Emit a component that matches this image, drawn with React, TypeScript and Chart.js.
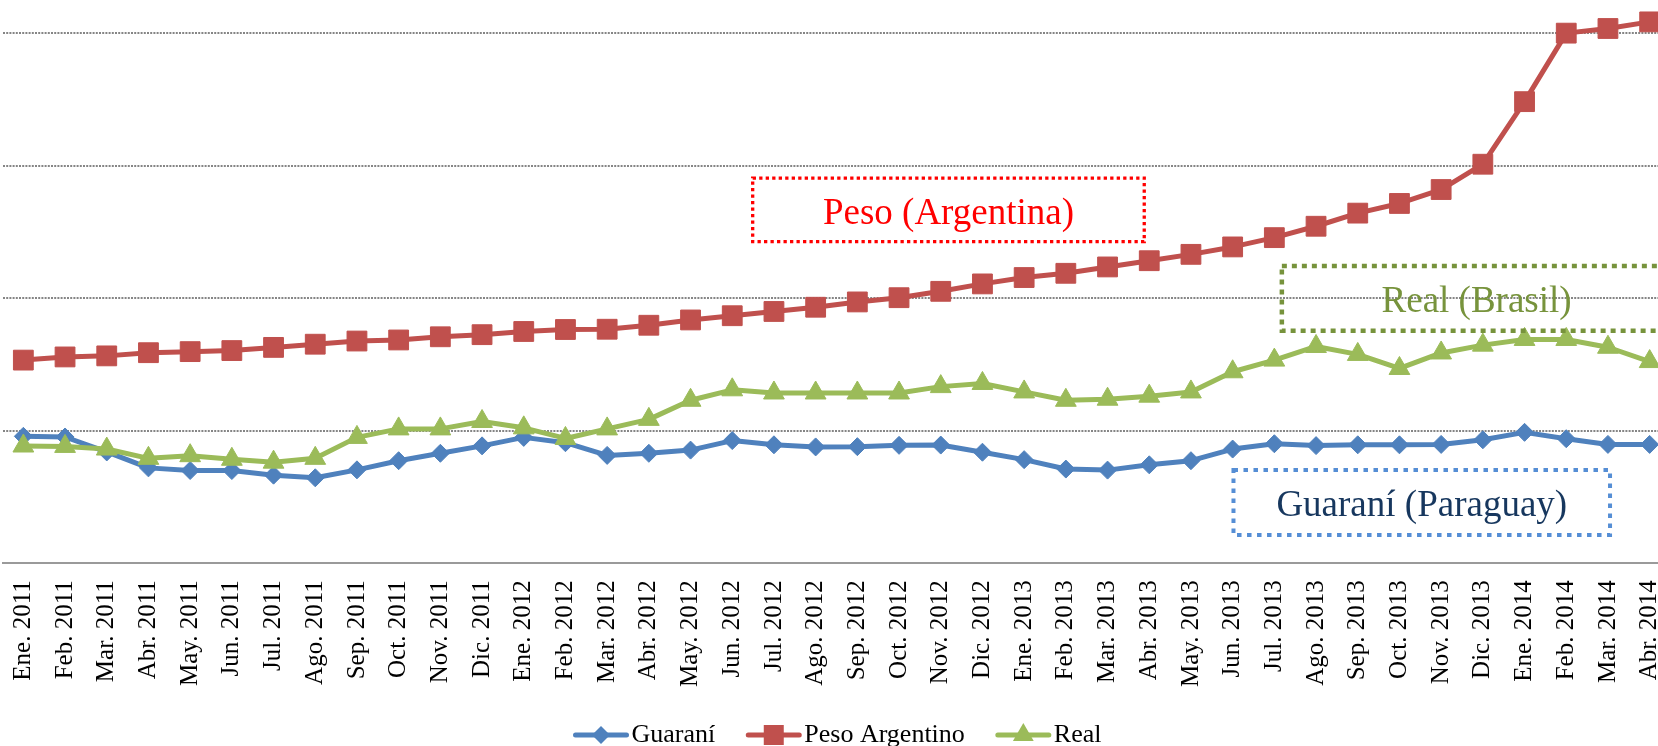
import React, { useEffect, useRef } from 'react';
import { Chart, registerables } from 'chart.js';

Chart.register(...registerables);

const FONT = '"Liberation Serif", "Times New Roman", serif';

const categories = [
  'Ene. 2011', 'Feb. 2011', 'Mar. 2011', 'Abr. 2011', 'May. 2011', 'Jun. 2011',
  'Jul. 2011', 'Ago. 2011', 'Sep. 2011', 'Oct. 2011', 'Nov. 2011', 'Dic. 2011',
  'Ene. 2012', 'Feb. 2012', 'Mar. 2012', 'Abr. 2012', 'May. 2012', 'Jun. 2012',
  'Jul. 2012', 'Ago. 2012', 'Sep. 2012', 'Oct. 2012', 'Nov. 2012', 'Dic. 2012',
  'Ene. 2013', 'Feb. 2013', 'Mar. 2013', 'Abr. 2013', 'May. 2013', 'Jun. 2013',
  'Jul. 2013', 'Ago. 2013', 'Sep. 2013', 'Oct. 2013', 'Nov. 2013', 'Dic. 2013',
  'Ene. 2014', 'Feb. 2014', 'Mar. 2014', 'Abr. 2014',
];

const guarani = [
  0.958, 0.953, 0.840, 0.720, 0.700, 0.700, 0.665, 0.645, 0.705, 0.774, 0.830, 0.886,
  0.950, 0.910, 0.814, 0.830, 0.854, 0.926, 0.894, 0.878, 0.880, 0.890, 0.892, 0.838,
  0.782, 0.711, 0.703, 0.743, 0.774, 0.862, 0.902, 0.888, 0.894, 0.894, 0.897, 0.932,
  0.988, 0.940, 0.897, 0.897,
];

const pesoArgentino = [
  1.533, 1.557, 1.565, 1.589, 1.597, 1.605, 1.629, 1.653, 1.677, 1.685, 1.709, 1.725,
  1.749, 1.764, 1.766, 1.796, 1.836, 1.868, 1.900, 1.932, 1.972, 2.004, 2.052, 2.108,
  2.156, 2.188, 2.236, 2.283, 2.331, 2.387, 2.457, 2.543, 2.642, 2.715, 2.820, 3.011,
  3.483, 4.000, 4.035, 4.085,
];

const real = [
  0.885, 0.882, 0.862, 0.792, 0.812, 0.785, 0.763, 0.792, 0.950, 1.014, 1.014, 1.070,
  1.022, 0.942, 1.014, 1.086, 1.230, 1.309, 1.285, 1.285, 1.285, 1.285, 1.333, 1.357,
  1.293, 1.230, 1.238, 1.261, 1.293, 1.445, 1.533, 1.636, 1.576, 1.470, 1.587, 1.646,
  1.689, 1.689, 1.630, 1.522,
];

const seriesNames = ['Guaraní', 'Peso Argentino', 'Real'];
const seriesColors = ['#4F81BD', '#C0504D', '#9BBB59'];

// Annotation text boxes (positions in data units: category index / value)
const annotationTexts = ['Peso (Argentina)', 'Real (Brasil)', 'Guaraní (Paraguay)'];
const annotationBoxes = [
  { x0: 17.49, x1: 26.88, y0: 2.427, y1: 2.906, border: '#FF0000', text: '#FF0000', lw: 3.3, dash: [3.3, 3.2] },
  { x0: 30.18, x1: 39.52, y0: 1.755, y1: 2.244, border: '#77933C', text: '#77933C', lw: 4.5, dash: [5, 5] },
  { x0: 29.02, x1: 38.05, y0: 0.214, y1: 0.704, border: '#558ED5', text: '#17375E', lw: 4, dash: [4.5, 5.5] },
];

function drawMarker(ctx: CanvasRenderingContext2D, style: string, x: number, y: number, color: string) {
  ctx.fillStyle = color;
  ctx.beginPath();
  if (style === 'rectRot') {
    const r = 9;
    ctx.moveTo(x - r, y);
    ctx.lineTo(x, y - r);
    ctx.lineTo(x + r, y);
    ctx.lineTo(x, y + r);
  } else if (style === 'rect') {
    const h = 10;
    ctx.rect(x - h, y - h, 2 * h, 2 * h);
  } else {
    const r = 12;
    ctx.moveTo(x, y - r);
    ctx.lineTo(x + r * 0.866, y + r / 2);
    ctx.lineTo(x - r * 0.866, y + r / 2);
  }
  ctx.closePath();
  ctx.fill();
}

const boxesPlugin = {
  id: 'textBoxes',
  afterDatasetsDraw(chart: any) {
    const { ctx } = chart;
    const xs = chart.scales.x;
    const ys = chart.scales.y;
    annotationBoxes.forEach((b, i) => {
      const l = xs.getPixelForValue(b.x0);
      const r = xs.getPixelForValue(b.x1);
      const t = ys.getPixelForValue(b.y1);
      const bt = ys.getPixelForValue(b.y0);
      ctx.save();
      ctx.strokeStyle = b.border;
      ctx.lineWidth = b.lw;
      ctx.lineCap = 'butt';
      ctx.setLineDash(b.dash);
      ctx.strokeRect(l, t, r - l, bt - t);
      ctx.setLineDash([]);
      ctx.fillStyle = b.text;
      ctx.font = `37px ${FONT}`;
      ctx.textAlign = 'center';
      ctx.textBaseline = 'alphabetic';
      ctx.fillText(annotationTexts[i], (l + r) / 2, (t + bt) / 2 + 14);
      ctx.restore();
    });
  },
};

const legendPlugin = {
  id: 'lineLegend',
  afterDraw(chart: any) {
    const { ctx, chartArea } = chart;
    ctx.save();
    ctx.font = `26px ${FONT}`;
    const items = chart.data.datasets.map((ds: any) => ({
      text: ds.label as string,
      color: ds.borderColor as string,
      style: ds.pointStyle as string,
      w: ctx.measureText(ds.label).width,
    }));
    const sample = 55;
    const gap = 3;
    const spacing = 31;
    const total = items.reduce((s: number, it: any) => s + sample + gap + it.w, 0) + spacing * (items.length - 1);
    let xp = (chartArea.left + chartArea.right) / 2 + 1 - total / 2;
    const yp = chart.height - 11;
    items.forEach((it: any) => {
      ctx.strokeStyle = it.color;
      ctx.lineWidth = 5;
      ctx.lineCap = 'round';
      ctx.beginPath();
      ctx.moveTo(xp + 2, yp);
      ctx.lineTo(xp + sample - 2, yp);
      ctx.stroke();
      drawMarker(ctx, it.style, xp + sample / 2, yp, it.color);
      ctx.fillStyle = '#000';
      ctx.textAlign = 'left';
      ctx.textBaseline = 'middle';
      ctx.fillText(it.text, xp + sample + gap, yp);
      xp += sample + gap + it.w + spacing;
    });
    ctx.restore();
  },
};

export default function App() {
  const canvasRef = useRef<HTMLCanvasElement | null>(null);

  useEffect(() => {
    if (!canvasRef.current) return;
    const styles = ['rectRot', 'rect', 'triangle'];
    const radii = [9, 14, 12];
    const values = [guarani, pesoArgentino, real];
    const orders = [2, 1, 0];
    const chart = new Chart(canvasRef.current, {
      type: 'line',
      data: {
        labels: categories,
        datasets: values.map((v, i) => ({
          label: seriesNames[i],
          data: v,
          borderColor: seriesColors[i],
          backgroundColor: seriesColors[i],
          borderWidth: 5,
          pointStyle: styles[i],
          pointRadius: radii[i],
          pointBorderWidth: 1,
          pointBorderColor: seriesColors[i],
          pointBackgroundColor: seriesColors[i],
          borderJoinStyle: 'round',
          borderCapStyle: 'round',
          tension: 0,
          clip: false,
          order: orders[i],
        })) as any,
      },
      options: {
        animation: false,
        responsive: false,
        layout: { autoPadding: false, padding: { left: 2.5, right: 1.5, top: 0, bottom: 47.7 } },
        plugins: {
          legend: { display: false },
          tooltip: { enabled: false },
        },
        scales: {
          x: {
            type: 'category',
            offset: true,
            grid: { display: false },
            border: { display: true, color: '#9a9a9a', width: 2 },
            ticks: {
              autoSkip: false,
              minRotation: 90,
              maxRotation: 90,
              padding: 9,
              color: '#000',
              font: { family: FONT, size: 25 },
            },
            afterFit: (s: any) => {
              s.height = 135;
              s.paddingLeft = 0;
              s.paddingRight = 0;
            },
          },
          y: {
            min: 0,
            max: 4.25,
            ticks: { display: false, stepSize: 1 },
            grid: {
              drawTicks: false,
              lineWidth: 2,
              color: (c: any) =>
                c.tick && Number.isInteger(c.tick.value) && c.tick.value > 0 ? '#858585' : 'rgba(0,0,0,0)',
            },
            border: { display: false, dash: [2, 1.2] },
            afterFit: (s: any) => {
              s.width = 0;
              s.paddingTop = 0;
              s.paddingBottom = 0;
            },
          },
        },
      },
      plugins: [boxesPlugin, legendPlugin],
    });
    return () => chart.destroy();
  }, []);

  return (
    <div
      style={{
        position: 'fixed',
        left: 0,
        top: 0,
        width: 1658,
        height: 746,
        overflow: 'hidden',
        background: '#fff',
      }}
    >
      <canvas ref={canvasRef} width={1672} height={746} style={{ display: 'block' }} />
    </div>
  );
}
